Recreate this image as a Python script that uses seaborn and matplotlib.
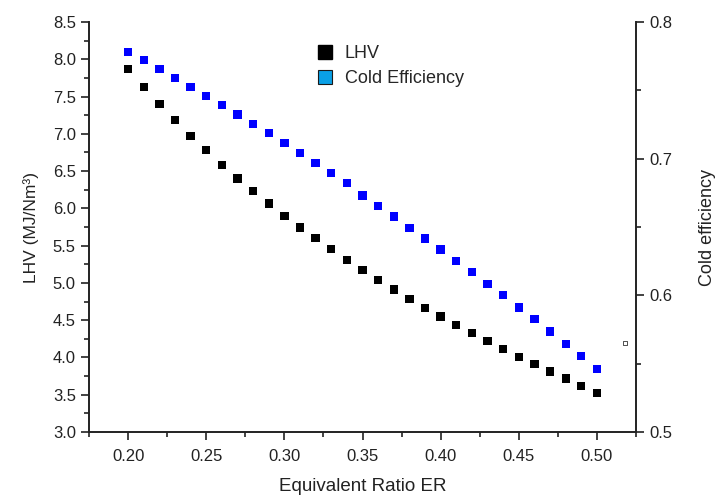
import matplotlib
matplotlib.use("Agg")
import matplotlib.pyplot as plt
from matplotlib.lines import Line2D
from matplotlib.ticker import MultipleLocator
import seaborn as sns
import pandas as pd

# values
er = [0.20, 0.21, 0.22, 0.23, 0.24, 0.25, 0.26, 0.27, 0.28, 0.29, 0.30,
      0.31, 0.32, 0.33, 0.34, 0.35, 0.36, 0.37, 0.38, 0.39, 0.40,
      0.41, 0.42, 0.43, 0.44, 0.45, 0.46, 0.47, 0.48, 0.49, 0.50]
lhv = [7.87, 7.63, 7.40, 7.185, 6.975, 6.78, 6.585, 6.40, 6.23, 6.065, 5.90,
       5.745, 5.60, 5.455, 5.305, 5.17, 5.035, 4.91, 4.785, 4.665, 4.55,
       4.44, 4.33, 4.22, 4.115, 4.005, 3.91, 3.81, 3.72, 3.62, 3.525]
cold_eff = [0.778, 0.772, 0.7656, 0.7592, 0.7526, 0.746, 0.7392, 0.7323, 0.7255, 0.7187, 0.7116,
            0.7042, 0.6969, 0.6896, 0.682, 0.6731, 0.6654, 0.6576, 0.6495, 0.6417, 0.6336,
            0.6253, 0.6171, 0.6085, 0.6002, 0.5912, 0.5826, 0.5736, 0.5645, 0.5555, 0.5462]
# tiny stray point visible right of the data
stray_er = [0.518]
stray_eff = [0.5653]

df = pd.DataFrame({"ER": er, "LHV": lhv, "Cold": cold_eff})

sns.set_theme(style="ticks")
plt.rcParams["font.family"] = ["Liberation Sans", "DejaVu Sans"]

fig = plt.figure(figsize=(7.15, 4.96), dpi=100)
ax = fig.add_axes([0.1245, 0.129, 0.765, 0.8266])
ax2 = ax.twinx()

sns.scatterplot(data=df, x="ER", y="LHV", ax=ax, marker="s", s=36,
                color="black", edgecolor="none", linewidth=0)
sns.scatterplot(data=df, x="ER", y="Cold", ax=ax2, marker="s", s=36,
                color="#0000ff", edgecolor="none", linewidth=0)
ax2.scatter(stray_er, stray_eff, marker="s", s=6, facecolor="white",
            edgecolor="#333333", linewidth=0.6)

ax.set_xlim(0.175, 0.525)
ax.set_ylim(3.0, 8.5)
ax2.set_ylim(0.5, 0.8)

ax.xaxis.set_major_locator(MultipleLocator(0.05))
ax.xaxis.set_minor_locator(MultipleLocator(0.025))
ax.yaxis.set_major_locator(MultipleLocator(0.5))
ax.yaxis.set_minor_locator(MultipleLocator(0.25))
ax2.yaxis.set_major_locator(MultipleLocator(0.1))
ax2.yaxis.set_minor_locator(MultipleLocator(0.05))
ax.xaxis.set_major_formatter(plt.FuncFormatter(lambda v, p: f"{v:.2f}"))
ax.yaxis.set_major_formatter(plt.FuncFormatter(lambda v, p: f"{v:.1f}"))
ax2.yaxis.set_major_formatter(plt.FuncFormatter(lambda v, p: f"{v:.1f}"))

for a in (ax, ax2):
    a.tick_params(which="major", direction="out", length=6, width=1.2,
                  labelsize=12, color="#222222", labelcolor="#222222")
    a.tick_params(which="minor", direction="out", length=3.5, width=1.2,
                  color="#222222")
    for s in a.spines.values():
        s.set_linewidth(1.4)
        s.set_color("#222222")
    a.spines["top"].set_visible(False)
ax.spines["right"].set_visible(False)
ax2.spines["left"].set_visible(False)
ax2.spines["bottom"].set_visible(False)
ax.tick_params(axis="x", pad=6)

ax.set_xlabel("Equivalent Ratio ER", fontsize=13.5, color="#222222", labelpad=10)
ax.set_ylabel("LHV (MJ/Nm³)", fontsize=12.5, color="#222222", labelpad=10)
ax2.set_ylabel("Cold efficiency", fontsize=13, color="#222222", labelpad=19)

handles = [
    Line2D([], [], marker="s", linestyle="none", markersize=10.5,
           markerfacecolor="black", markeredgecolor="black", label="LHV"),
    Line2D([], [], marker="s", linestyle="none", markersize=10.5,
           markerfacecolor="#0aa0e6", markeredgecolor="#1a1a1a",
           markeredgewidth=0.8, label="Cold Efficiency"),
]
ax.legend(handles=handles, loc="upper left", bbox_to_anchor=(0.385, 0.962),
          frameon=False, fontsize=13, handletextpad=0.1, labelspacing=0.45,
          borderaxespad=0)

fig.savefig("out.png", dpi=100)
